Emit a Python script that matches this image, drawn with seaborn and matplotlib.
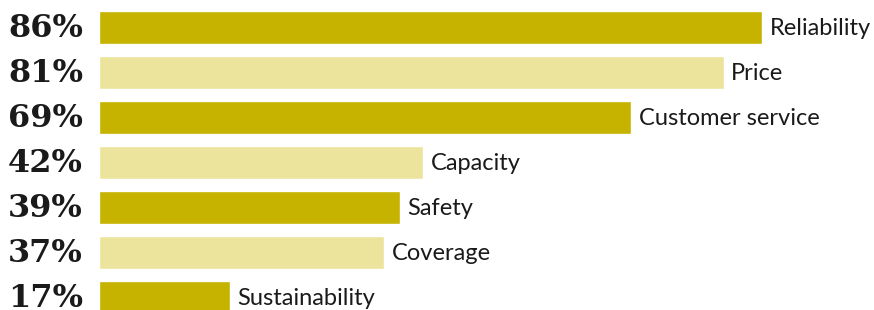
import matplotlib
matplotlib.use("Agg")
import matplotlib.pyplot as plt
import pandas as pd
import seaborn as sns

# values
categories = ["Reliability", "Price", "Customer service", "Capacity",
              "Safety", "Coverage", "Sustainability"]
shares = [86, 81, 69, 42, 39, 37, 17]
pct_labels = ["86%", "81%", "69%", "42%", "39%", "37%", "17%"]

dark = "#C5B300"
light = "#ECE39C"
bar_colors = [dark if i % 2 == 0 else light for i in range(len(categories))]

df = pd.DataFrame({"category": categories, "share": shares})

sns.set_style("white")
fig = plt.figure(figsize=(8.74, 3.10), dpi=100)
ax = fig.add_axes([99 / 874, 0, 771 / 874, 1])

sns.barplot(data=df, x="share", y="category", hue="category",
            palette=bar_colors, legend=False, orient="h",
            width=0.733, saturation=1, ax=ax)

ax.set_xlim(0, 100)
ax.set_ylim(6 + 12.5 / 45, -27.5 / 45)
ax.set_xlabel("")
ax.set_ylabel("")
ax.set_xticks([])
ax.set_yticks([])
sns.despine(ax=ax, left=True, bottom=True)

for i, (val, cat, pct) in enumerate(zip(shares, categories, pct_labels)):
    # category name just past the end of the bar
    ax.annotate(cat, (val, i), xytext=(5.5, -1), textcoords="offset points",
                ha="left", va="center", fontsize=17, family="Lato",
                color="#1a1a1a", annotation_clip=False)
    # big percentage to the left of the bar
    ax.annotate(pct, (0, i), xytext=(-11.5, -0.5), textcoords="offset points",
                ha="right", va="center", fontsize=23, fontweight="heavy",
                family="DejaVu Serif", color="#1a1a1a", annotation_clip=False)

fig.savefig("out.png", dpi=100)
